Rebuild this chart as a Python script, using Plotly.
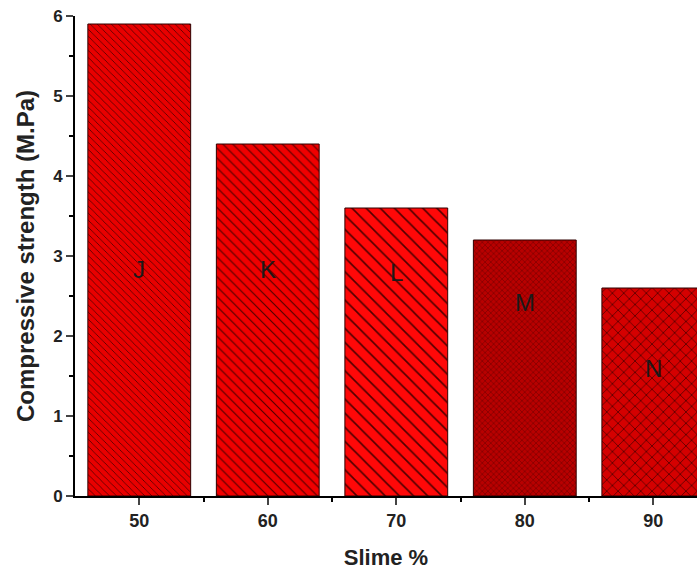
import plotly.graph_objects as go

slime = [50, 60, 70, 80, 90]
strength = [5.9, 4.4, 3.6, 3.2, 2.6]
labels = ["J", "K", "L", "M", "N"]
label_y = [2.83, 2.83, 2.8, 2.42, 1.6]
patterns = ["\\", "\\", "\\", "x", "x"]
pattern_sizes = [5, 7, 10, 4, 8]
bg_colors = ["#e80000", "#f00000", "#ff0808", "#b80000", "#d40000"]
fg_colors = ["#500000", "#500000", "#500000", "#3a0000", "#3a0000"]

FONT = "Liberation Sans, Arial"

fig = go.Figure()
fig.add_trace(go.Bar(
    x=slime, y=strength, width=8,
    marker=dict(
        color="#e00000",
        line=dict(color="#300000", width=1),
        pattern=dict(shape=patterns, size=pattern_sizes, fgcolor=fg_colors,
                     bgcolor=bg_colors, solidity=0.16, fillmode="replace", fgopacity=1),
    ),
    showlegend=False,
))
for xv, yv, t in zip(slime, label_y, labels):
    fig.add_annotation(x=xv, y=yv, text=t, showarrow=False,
                       font=dict(family=FONT, size=24, color="#1a1a1a"))

# y-axis title placed as rotated text
fig.add_annotation(x=-0.0804, y=0.5, xref="paper", yref="paper", xanchor="center", yanchor="middle",
                   text="Compressive strength (M.Pa)", textangle=-90, showarrow=False,
                   font=dict(family=FONT, size=24, color="#222", weight="bold"))

fig.update_layout(
    width=697, height=574,
    margin=dict(l=75, r=0, t=16, b=78),
    plot_bgcolor="white", paper_bgcolor="white",
    xaxis=dict(
        range=[45, 93.4], tickvals=slime, ticks="outside", ticklen=7, tickwidth=2,
        showline=True, linecolor="black", linewidth=2, showgrid=False, zeroline=False,
        tickfont=dict(family=FONT, size=18, color="#222", weight="bold"),
        title=dict(text="Slime %", font=dict(family=FONT, size=22, color="#222", weight="bold"), standoff=20),
        minor=dict(tickvals=[55, 65, 75, 85], ticks="outside", ticklen=4, tickwidth=2, tickcolor="black"),
    ),
    yaxis=dict(
        range=[0, 6], dtick=1, ticks="outside", ticklen=7, tickwidth=2,
        showline=True, linecolor="black", linewidth=2, showgrid=False, zeroline=False,
        tickfont=dict(family=FONT, size=17, color="#222", weight="bold"),
        minor=dict(dtick=0.5, ticks="outside", ticklen=4, tickwidth=2, tickcolor="black"),
    ),
)
fig.write_html("out.html")
